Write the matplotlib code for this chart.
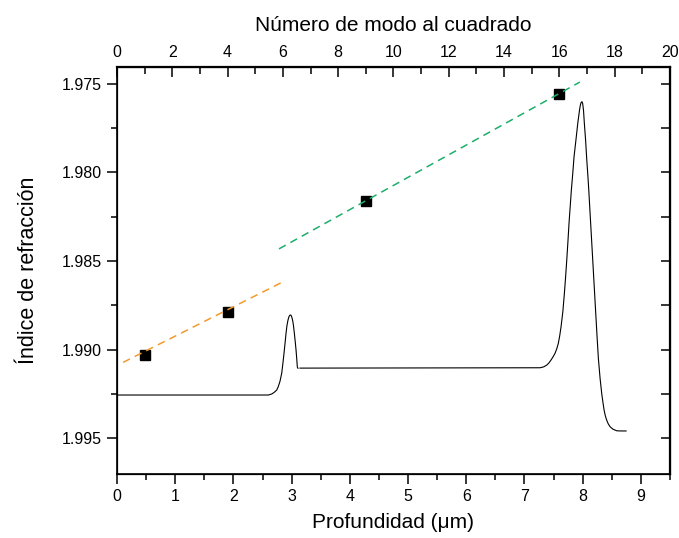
import matplotlib
matplotlib.use("Agg")
import matplotlib.pyplot as plt
import numpy as np
from matplotlib.ticker import MultipleLocator, FormatStrFormatter

plt.rcParams['font.family'] = ['Liberation Sans', 'DejaVu Sans']

# Refractive-index profile vs depth (two pieces)
depth_a = [0.0, 2.60, 2.66, 2.70, 2.744, 2.77, 2.80, 2.830, 2.853, 2.875, 2.890, 2.904,
           2.920, 2.938, 2.955, 2.970, 2.985, 2.998, 3.010, 3.020, 3.030, 3.047, 3.062,
           3.076, 3.088, 3.098, 3.110]
index_a = [1.99257, 1.99257, 1.99251, 1.99242, 1.99229, 1.99210, 1.99180, 1.99134,
           1.99070, 1.99003, 1.98955, 1.98908, 1.98865, 1.98833, 1.98814, 1.98806,
           1.98805, 1.98812, 1.98825, 1.98840, 1.98860, 1.98908, 1.98955, 1.99003,
           1.99052, 1.99099, 1.99106]

depth_b = [3.144, 7.268, 7.330, 7.383, 7.420, 7.457, 7.490, 7.526, 7.555, 7.582, 7.606,
           7.629, 7.660, 7.686, 7.707, 7.727, 7.747, 7.766, 7.786, 7.806, 7.830, 7.852,
           7.885, 7.916, 7.945, 7.960, 7.973, 7.988, 8.000, 8.015, 8.029, 8.050, 8.070,
           8.090, 8.105, 8.132, 8.150, 8.167, 8.184, 8.205, 8.225, 8.248, 8.270, 8.300,
           8.328, 8.350, 8.368, 8.390, 8.414, 8.440, 8.471, 8.520, 8.586, 8.650, 8.746]
index_b = [1.99105, 1.99103, 1.99098, 1.99088, 1.99076, 1.99059, 1.99042, 1.99021,
           1.98996, 1.98965, 1.98922, 1.98871, 1.98785, 1.98683, 1.98590, 1.98494,
           1.98390, 1.98285, 1.98192, 1.98099, 1.98005, 1.97911, 1.97815, 1.97722,
           1.97650, 1.97620, 1.97605, 1.97600, 1.97610, 1.97650, 1.97722, 1.97815,
           1.97925, 1.98020, 1.98099, 1.98256, 1.98360, 1.98459, 1.98558, 1.98680,
           1.98797, 1.98930, 1.99050, 1.99165, 1.99250, 1.99302, 1.99342, 1.99375,
           1.99400, 1.99420, 1.99436, 1.99450, 1.99459, 1.99460, 1.99460]

# Effective indices of the guided modes vs squared mode number
mode_sq = [1, 4, 9, 16]
mode_index = [1.99030, 1.98789, 1.98160, 1.97558]

# Linear fits: (intercept, slope) and the m^2 span they are drawn over
fit_low = (1.99090, -0.000787)
fit_low_span = [0.22, 6.08]
fit_high = (1.98939, -0.000866)
fit_high_span = [5.86, 16.74]

fig = plt.figure(figsize=(6.79, 5.38), dpi=100)
ax = fig.add_axes([0.1723, 0.119, 0.8144, 0.7565])

ax.plot(depth_a, index_a, color='black', lw=0.8, solid_joinstyle='round')
ax.plot(depth_b, index_b, color='black', lw=0.8, solid_joinstyle='round')
ax.set_xlim(0, 9.5)
ax.set_ylim(1.99703, 1.97404)
ax.xaxis.set_major_locator(MultipleLocator(1))
ax.xaxis.set_minor_locator(MultipleLocator(0.5))
ax.yaxis.set_major_locator(MultipleLocator(0.005))
ax.yaxis.set_minor_locator(MultipleLocator(0.0025))
ax.yaxis.set_major_formatter(FormatStrFormatter('%.3f'))
ax.tick_params(axis='both', which='major', direction='out', length=7, width=1.1,
               labelsize=11.5, pad=4)
ax.tick_params(axis='both', which='minor', direction='out', length=4.5, width=1.1)
ax.tick_params(axis='y', which='both', right=True)
ax.set_xlabel('Profundidad (\u03bcm)', fontsize=15, labelpad=6)
ax.set_ylabel('\u00cdndice de refracci\u00f3n', fontsize=15.5, labelpad=16)
for s in ax.spines.values():
    s.set_linewidth(1.2)

# Right-side inward ticks
axr = ax.twinx()
axr.set_ylim(ax.get_ylim())
axr.yaxis.set_major_locator(MultipleLocator(0.005))
axr.yaxis.set_minor_locator(MultipleLocator(0.0025))
axr.tick_params(axis='y', which='both', direction='in', length=6.5, width=1.1,
                labelright=False)
axr.spines['right'].set_linewidth(1.6)

# Top axis: squared mode number
axt = ax.twiny()
axt.set_xlim(0, 20)
axt.set_ylim(ax.get_ylim())
axt.xaxis.set_major_locator(MultipleLocator(2))
axt.xaxis.set_minor_locator(MultipleLocator(1))
axt.tick_params(axis='x', which='major', direction='in', length=7, width=1.1,
                labelsize=11.5, pad=5)
axt.tick_params(axis='x', which='minor', direction='in', length=5, width=1.1)
axt.set_xlabel('N\u00famero de modo al cuadrado', fontsize=15, labelpad=10)
axt.spines['top'].set_linewidth(1.6)

axt.plot(mode_sq, mode_index, linestyle='none', marker='s', markersize=7.5,
         color='black', zorder=3)
xl = np.array(fit_low_span)
axt.plot(xl, fit_low[0] + fit_low[1] * xl, color='#F39A2E', lw=1.1,
         dashes=(5, 3.5), zorder=4)
xh = np.array(fit_high_span)
axt.plot(xh, fit_high[0] + fit_high[1] * xh, color='#1DAE6A', lw=1.1,
         dashes=(5, 3.5), zorder=4)

fig.savefig('out.png', dpi=100)
